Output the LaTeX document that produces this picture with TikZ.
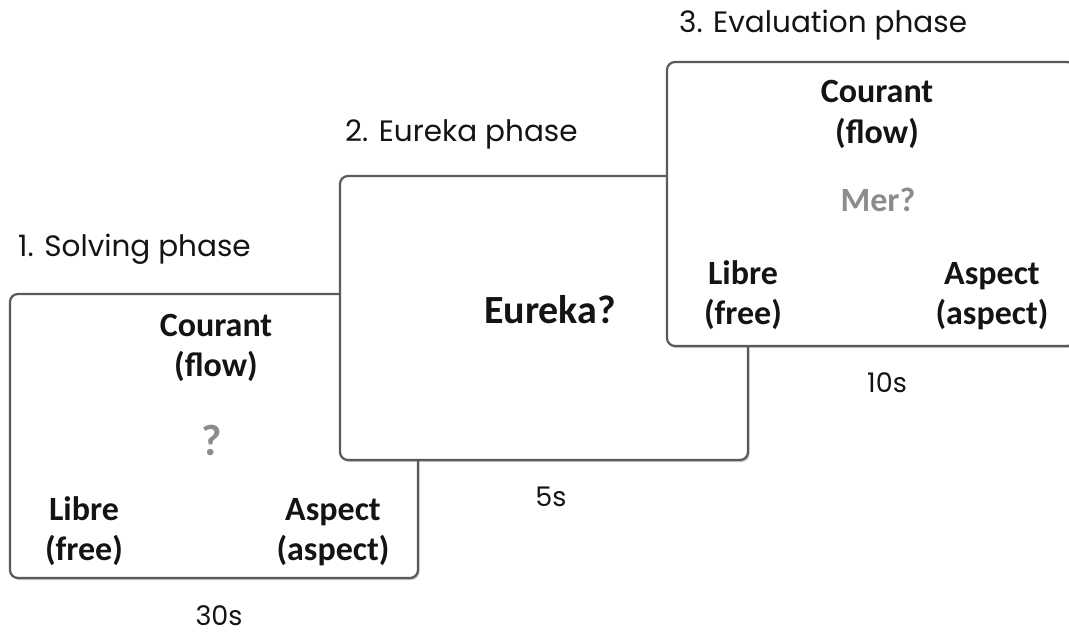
\documentclass[tikz,border=0pt]{standalone}
\usepackage{fontspec}
\setmainfont{Carlito}
\newfontfamily\labelfont{Poppins}
\usetikzlibrary{shadows}
\definecolor{edgegray}{HTML}{5A5A5A}
\definecolor{qgray}{HTML}{8C8C8C}
\definecolor{txtdark}{HTML}{141414}
\begin{document}
\begin{tikzpicture}[x=1pt,y=-1pt,
  card/.style={draw=edgegray, line width=2.2pt, rounded corners=8pt, fill=white,
    minimum width=408pt, minimum height=284pt, inner sep=0pt,
    drop shadow={shadow xshift=1.5pt, shadow yshift=-2pt, opacity=0.35, fill=black!60}},
  word/.style={font=\fontsize{34}{40}\selectfont\bfseries, text=txtdark, anchor=base, inner sep=0pt},
  hint/.style={font=\fontsize{34}{40}\selectfont\bfseries, text=qgray, anchor=base, inner sep=0pt},
  phase/.style={font=\labelfont\fontsize{29.5}{34}\selectfont, text=txtdark, anchor=base west, inner sep=0pt},
  dur/.style={font=\labelfont\fontsize{27}{32}\selectfont, text=txtdark, anchor=base, inner sep=0pt}]
\useasboundingbox (0,0) rectangle (1069,636);
\clip (0,0) rectangle (1069,636);
% box 1
\node[card] (b1) at (214,436) {};
\node[word] (c1) at (216,337) {Courant};
\node[word] (f1) at (216,377) {(flow)};
\node[hint, font=\fontsize{44}{50}\selectfont\bfseries] (q1) at (212,455) {?};
\node[word] (l1) at (84,520) {Libre};
\node[word] (fr1) at (84,560) {(free)};
\node[word] (a1) at (333,520) {Aspect};
\node[word] (as1) at (333,560) {(aspect)};
% box 2
\node[card] (b2) at (544,318) {};
\node[font=\fontsize{40}{48}\selectfont\bfseries, text=txtdark, anchor=base, inner sep=0pt] (e2) at (550,324) {Eureka?};
% box 3
\node[card] (b3) at (871,204) {};
\node[word] (c3) at (877,103) {Courant};
\node[word] (f3) at (877,144) {(flow)};
\node[hint] (m3) at (878,212) {Mer?};
\node[word] (l3) at (743,285) {Libre};
\node[word] (fr3) at (743,325) {(free)};
\node[word] (a3) at (992,285) {Aspect};
\node[word] (as3) at (992,325) {(aspect)};
% labels
\node[phase] (p1) at (18,257) {1. Solving phase};
\node[phase] (p2) at (345,142) {2. Eureka phase};
\node[phase] (p3) at (679,33) {3. Evaluation phase};
\node[dur] (d1) at (219,625) {30s};
\node[dur] (d2) at (551,506) {5s};
\node[dur] (d3) at (887,393) {10s};
\end{tikzpicture}
\end{document}
